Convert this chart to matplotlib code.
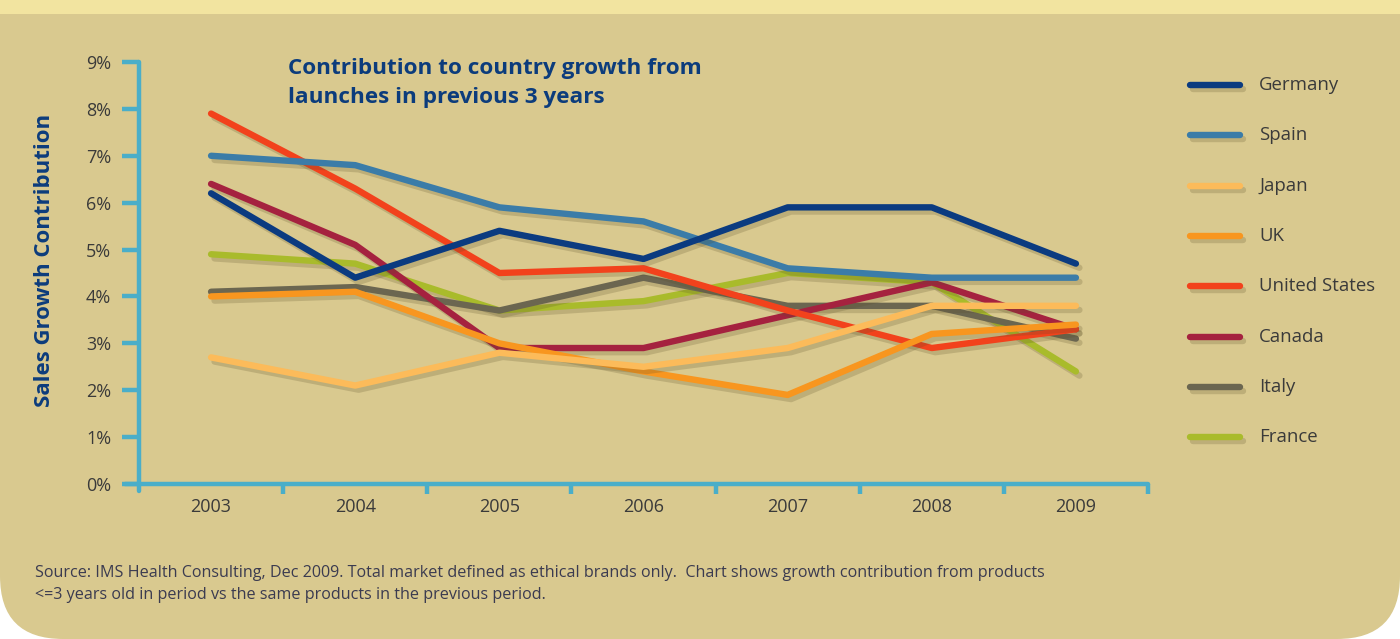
import matplotlib
matplotlib.use("Agg")
import matplotlib.pyplot as plt
import matplotlib.patheffects as pe
from matplotlib.patches import FancyBboxPatch, Rectangle
from matplotlib.lines import Line2D
from matplotlib.ticker import FixedLocator, FuncFormatter

years = ["2003", "2004", "2005", "2006", "2007", "2008", "2009"]
germany = [6.2, 4.4, 5.4, 4.8, 5.9, 5.9, 4.7]
spain = [7.0, 6.8, 5.9, 5.6, 4.6, 4.4, 4.4]
japan = [2.7, 2.1, 2.8, 2.5, 2.9, 3.8, 3.8]
uk = [4.0, 4.1, 3.0, 2.4, 1.9, 3.2, 3.4]
united_states = [7.9, 6.3, 4.5, 4.6, 3.7, 2.9, 3.3]
canada = [6.4, 5.1, 2.9, 2.9, 3.6, 4.3, 3.3]
italy = [4.1, 4.2, 3.7, 4.4, 3.8, 3.8, 3.1]
france = [4.9, 4.7, 3.7, 3.9, 4.5, 4.3, 2.4]

names = ["Germany", "Spain", "Japan", "UK", "United States", "Canada", "Italy", "France"]
series = [germany, spain, japan, uk, united_states, canada, italy, france]
colors = ["#0b3b80", "#3b7ca8", "#fcbb5a", "#f8961f", "#f2421c", "#a5223f", "#6b6650", "#a9bb2b"]
y_ticks = [0, 1, 2, 3, 4, 5, 6, 7, 8, 9]

plt.rcParams['font.family'] = ['Open Sans', 'DejaVu Sans']

W, H = 1400, 639
fig = plt.figure(figsize=(W / 100, H / 100), dpi=100)
fig.patch.set_facecolor("white")

bg = "#d9c98f"
panel = FancyBboxPatch((0.0, 0.0), 1.0, 1.2, boxstyle="round,pad=0,rounding_size=0.045",
                       transform=fig.transFigure, facecolor=bg, edgecolor="none",
                       mutation_aspect=W / H, zorder=-10)
fig.add_artist(panel)
fig.add_artist(Rectangle((0, 1 - 14 / H), 1, 14 / H, transform=fig.transFigure,
                         facecolor="#f2e4a0", edgecolor="none", zorder=-9))

left = 139 / W
right = 1148 / W
top = 1 - 62 / H
bottom = 1 - 484 / H
ax = fig.add_axes([left, bottom, right - left, top - bottom])
ax.set_facecolor("none")

axis_col = "#4aaec9"
x = list(range(len(years)))
shadow = [pe.SimpleLineShadow(offset=(2.5, -3), shadow_color="#5a4f2a", alpha=0.22),
          pe.Normal()]
order = list(range(len(names)))[::-1]
for i in order:
    ax.plot(x, series[i], color=colors[i], lw=4.6, solid_capstyle="round",
            solid_joinstyle="round", path_effects=shadow, zorder=3 + (len(names) - i))

ax.set_xlim(-0.5, len(years) - 0.5)
ax.set_ylim(0, 9)
ax.set_xticks(x)
ax.set_xticklabels(years)
ax.xaxis.set_minor_locator(FixedLocator([k + 0.5 for k in range(len(years))]))
ax.tick_params(axis="x", which="major", length=0, pad=10, labelsize=13, labelcolor="#3a3a3a")
ax.tick_params(axis="x", which="minor", length=7, width=3.2, color=axis_col, direction="out")
ax.set_yticks(y_ticks)
ax.yaxis.set_major_formatter(FuncFormatter(lambda v, p: f"{int(v)}%"))
ax.tick_params(axis="y", length=12, width=3.2, color=axis_col, pad=8, labelsize=13,
               labelcolor="#3a3a3a")
for s in ["top", "right"]:
    ax.spines[s].set_visible(False)
for s in ["left", "bottom"]:
    ax.spines[s].set_color(axis_col)
    ax.spines[s].set_linewidth(3.2)
    ax.spines[s].set_capstyle("round")
ax.spines["left"].set_bounds(-0.15, 9)
ax.spines["bottom"].set_bounds(-0.6, len(years) - 0.5)

ax.set_ylabel("Sales Growth Contribution", fontsize=16, fontweight="bold",
              color="#0c3c7c")
ax.yaxis.set_label_coords((45 - 139) / (1148 - 139), (484 - 260) / 422)
ax.yaxis.label.set_va("center")

fig.text(288 / W, 1 - 58 / H, "Contribution to country growth from\nlaunches in previous 3 years",
         fontsize=16.2, fontweight="bold", color="#0c3c7c", va="top", ha="left",
         linespacing=1.5)

# legend
for k, (n, c) in enumerate(zip(names, colors)):
    yy = 1 - (85 + 50.3 * k) / H
    ln = Line2D([1190 / W, 1240 / W], [yy, yy], transform=fig.transFigure, color=c,
                lw=4.6, solid_capstyle="round", path_effects=shadow)
    fig.add_artist(ln)
    fig.text(1259 / W, yy, n, fontsize=13.4, color="#3a3a3a", va="center", ha="left")

fig.text(35 / W, 1 - 584 / H,
         "Source: IMS Health Consulting, Dec 2009. Total market defined as ethical brands only.  "
         "Chart shows growth contribution from products\n<=3 years old in period vs the same products in the previous period.",
         fontsize=11.6, color="#3b3b50", va="center", ha="left", linespacing=1.45)

fig.savefig("out.png", dpi=100, facecolor=fig.get_facecolor())
